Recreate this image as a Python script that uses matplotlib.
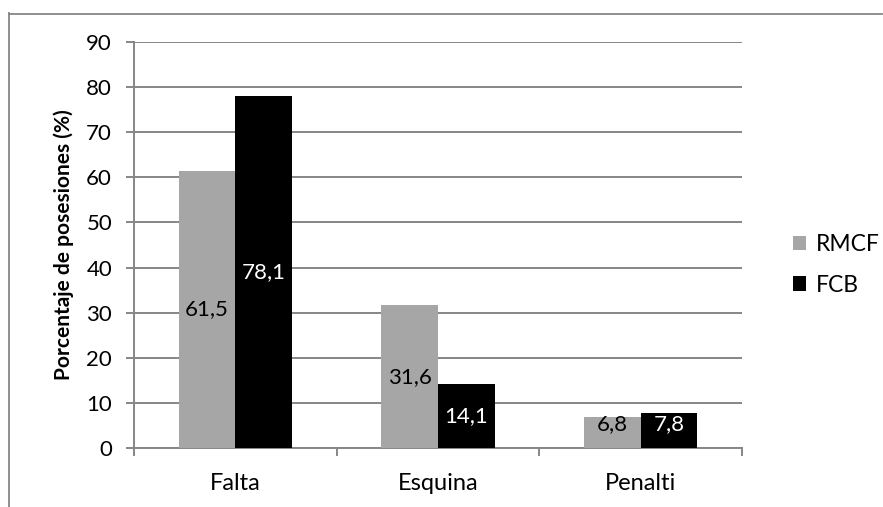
import matplotlib
matplotlib.use("Agg")
import matplotlib.pyplot as plt
from matplotlib.patches import Patch
from matplotlib.lines import Line2D
import numpy as np

categories = ["Falta", "Esquina", "Penalti"]
series_names = ["RMCF", "FCB"]
rmcf_values = [61.5, 31.6, 6.8]
fcb_values = [78.1, 14.1, 7.8]
value_labels_rmcf = ["61,5", "31,6", "6,8"]
value_labels_fcb = ["78,1", "14,1", "7,8"]
y_ticks = [0, 10, 20, 30, 40, 50, 60, 70, 80, 90]

plt.rcParams["font.family"] = ["Lato", "DejaVu Sans"]

W, H = 883, 507
fig = plt.figure(figsize=(W / 100, H / 100), dpi=100)
ax = fig.add_axes([134 / W, 1 - 448 / H, (742 - 134) / W, (448 - 42) / H])

grid_c = "#868686"
gray = "#A6A6A6"
x = np.arange(len(categories))
bw = 0.28

b1 = ax.bar(x - bw / 2, rmcf_values, bw, color=gray, zorder=3)
b2 = ax.bar(x + bw / 2, fcb_values, bw, color="black", zorder=3)

# value labels inside the bars
for bars, labels, tc in ((b1, value_labels_rmcf, "black"),
                         (b2, value_labels_fcb, "white")):
    for rect, lab in zip(bars, labels):
        h = rect.get_height()
        yc = max(h / 2, 5.4)
        ax.text(rect.get_x() + rect.get_width() / 2, yc, lab, ha="center",
                va="center", fontsize=16, color=tc, zorder=4)

ax.set_xlim(-0.5, len(categories) - 0.5)
ax.set_ylim(0, 90)
ax.set_yticks(y_ticks)
ax.yaxis.grid(True, color=grid_c, linewidth=1.4, zorder=0)
ax.set_axisbelow(True)

# category boundaries as major ticks, names on minor ticks
ax.set_xticks(np.arange(len(categories) + 1) - 0.5)
ax.set_xticklabels([])
ax.set_xticks(x, minor=True)
ax.set_xticklabels(categories, minor=True, fontsize=17)
ax.tick_params(axis="x", which="major", length=5.5, width=1.4, color=grid_c,
               direction="out")
ax.tick_params(axis="x", which="minor", length=0, pad=18)
ax.tick_params(axis="y", length=5.8, width=1.4, color=grid_c, direction="out",
               labelsize=16, pad=10)

for s in ["top", "right"]:
    ax.spines[s].set_visible(False)
for s in ["left", "bottom"]:
    ax.spines[s].set_color(grid_c)
    ax.spines[s].set_linewidth(1.4)

ax.set_ylabel("Porcentaje de posesiones (%)", fontsize=15, fontweight="bold")
ax.yaxis.set_label_coords(-0.098, 0.5)

handles = [Patch(facecolor=gray, edgecolor="none"),
           Patch(facecolor="black", edgecolor="none")]
fig.legend(handles, series_names, loc="center left",
           bbox_to_anchor=(772 / W, 1 - 265 / H), frameon=False, fontsize=16.5,
           handlelength=0.6, handleheight=0.6, handletextpad=0.4,
           labelspacing=0.85)

# outer chart frame
fig.add_artist(Line2D([8.5 / W, 8.5 / W], [0, 1 - 13 / H], color=grid_c,
                      linewidth=1.3, transform=fig.transFigure))
fig.add_artist(Line2D([8.5 / W, 882 / W], [1 - 13.5 / H, 1 - 13.5 / H],
                      color=grid_c, linewidth=1.3, transform=fig.transFigure))

fig.savefig("out.png", dpi=100)
